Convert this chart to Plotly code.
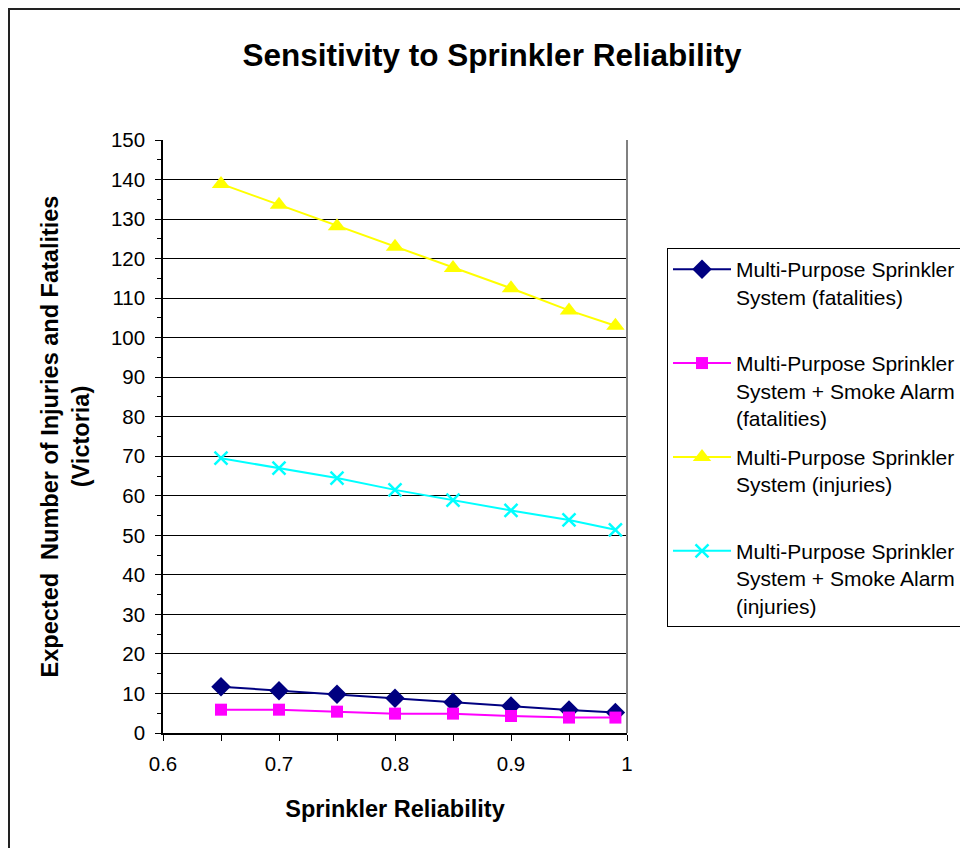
import plotly.graph_objects as go

# Sprinkler reliability values (x axis)
reliability = [0.65, 0.70, 0.75, 0.80, 0.85, 0.90, 0.95, 0.99]

# Expected number of injuries / fatalities (Victoria)
sprinkler_fatalities = [11.7, 10.7, 9.8, 8.8, 7.8, 6.8, 5.8, 5.2]
sprinkler_alarm_fatalities = [5.9, 5.9, 5.4, 4.9, 4.9, 4.3, 3.9, 3.9]
sprinkler_injuries = [138.9, 133.6, 128.2, 123.0, 117.6, 112.5, 106.9, 103.0]
sprinkler_alarm_injuries = [69.5, 67.0, 64.5, 61.5, 58.9, 56.3, 53.9, 51.4]

series_names = [
    "Multi-Purpose Sprinkler<br>System (fatalities)<br> ",
    "Multi-Purpose Sprinkler<br>System + Smoke Alarm<br>(fatalities)",
    "Multi-Purpose Sprinkler<br>System (injuries)<br> ",
    "Multi-Purpose Sprinkler<br>System + Smoke Alarm<br>(injuries)",
]

FONT = "Liberation Sans, Arial, sans-serif"
W, H = 960, 848
L, R, T, B = 163, 333, 140, 115
PW, PH = W - L - R, H - T - B

fig = go.Figure()

styles = [
    (sprinkler_fatalities, "#000080", dict(symbol="diamond", size=15, color="#000080")),
    (sprinkler_alarm_fatalities, "#FF00FF", dict(symbol="square", size=12, color="#FF00FF")),
    (sprinkler_injuries, "#FFFF00", dict(symbol="triangle-up", size=16, color="#FFFF00")),
    (sprinkler_alarm_injuries, "#00FFFF",
     dict(symbol="x-thin", size=13, color="#00FFFF", line=dict(width=2.5, color="#00FFFF"))),
]

for i, (vals, col, mk) in enumerate(styles):
    fig.add_trace(go.Scatter(
        x=reliability, y=vals, mode="lines+markers",
        name=series_names[i], legendgroup=f"g{i}",
        line=dict(color=col, width=2),
        marker=mk,
    ))

def px_x(p):
    return (p - L) / PW

def px_y(p):
    return (T + PH - p) / PH

shapes = [
    # outer chart border
    dict(type="rect", xref="paper", yref="paper",
         x0=px_x(9), x1=px_x(1010), y0=px_y(900), y1=px_y(9),
         line=dict(color="#222222", width=2), fillcolor="rgba(0,0,0,0)", layer="below"),
    # right edge of plot area
    dict(type="line", xref="paper", yref="paper", x0=1, x1=1, y0=0, y1=1,
         line=dict(color="#808080", width=2)),
]

fig.update_layout(
    width=W, height=H,
    margin=dict(l=L, r=R, t=T, b=B, pad=0, autoexpand=False),
    paper_bgcolor="white", plot_bgcolor="white",
    font=dict(family=FONT, color="black", size=20),
    title=dict(text="<b>Sensitivity to Sprinkler Reliability</b>",
               x=492 / W, xref="container", xanchor="center",
               y=1 - 55 / H, yref="container", yanchor="middle",
               font=dict(size=31.5, family=FONT, color="black")),
    xaxis=dict(range=[0.6, 1.0], dtick=0.1, tick0=0.6,
               showgrid=False, zeroline=False,
               showline=True, linecolor="black", linewidth=1.5,
               ticks="outside", ticklen=6, tickcolor="black",
               ticklabelstandoff=6,
               minor=dict(dtick=0.05, ticks="outside", ticklen=6, tickcolor="black"),
               tickfont=dict(size=20.5, family=FONT),
               title=dict(text="<b>Sprinkler Reliability</b>", standoff=26,
                          font=dict(size=23.5, family=FONT))),
    yaxis=dict(range=[0, 150], dtick=10,
               showgrid=True, gridcolor="black", gridwidth=1,
               zeroline=False,
               showline=True, linecolor="black", linewidth=1.5,
               ticks="outside", ticklen=6, tickcolor="black",
               ticklabelstandoff=6,
               minor=dict(dtick=5, ticks="outside", ticklen=4, tickcolor="black", showgrid=False),
               tickfont=dict(size=20.5, family=FONT),
               title=dict(text="<b>Expected  Number of Injuries and Fatalities<br>(Victoria)</b>",
                          standoff=15, font=dict(size=23.5, family=FONT))),
    legend=dict(x=px_x(667), y=px_y(248), xanchor="left", yanchor="top",
                bordercolor="black", borderwidth=1, bgcolor="white",
                font=dict(size=21, family=FONT),
                itemwidth=58, valign="top", tracegroupgap=9),
    shapes=shapes,
    showlegend=True,
)

fig.write_html("out.html")
